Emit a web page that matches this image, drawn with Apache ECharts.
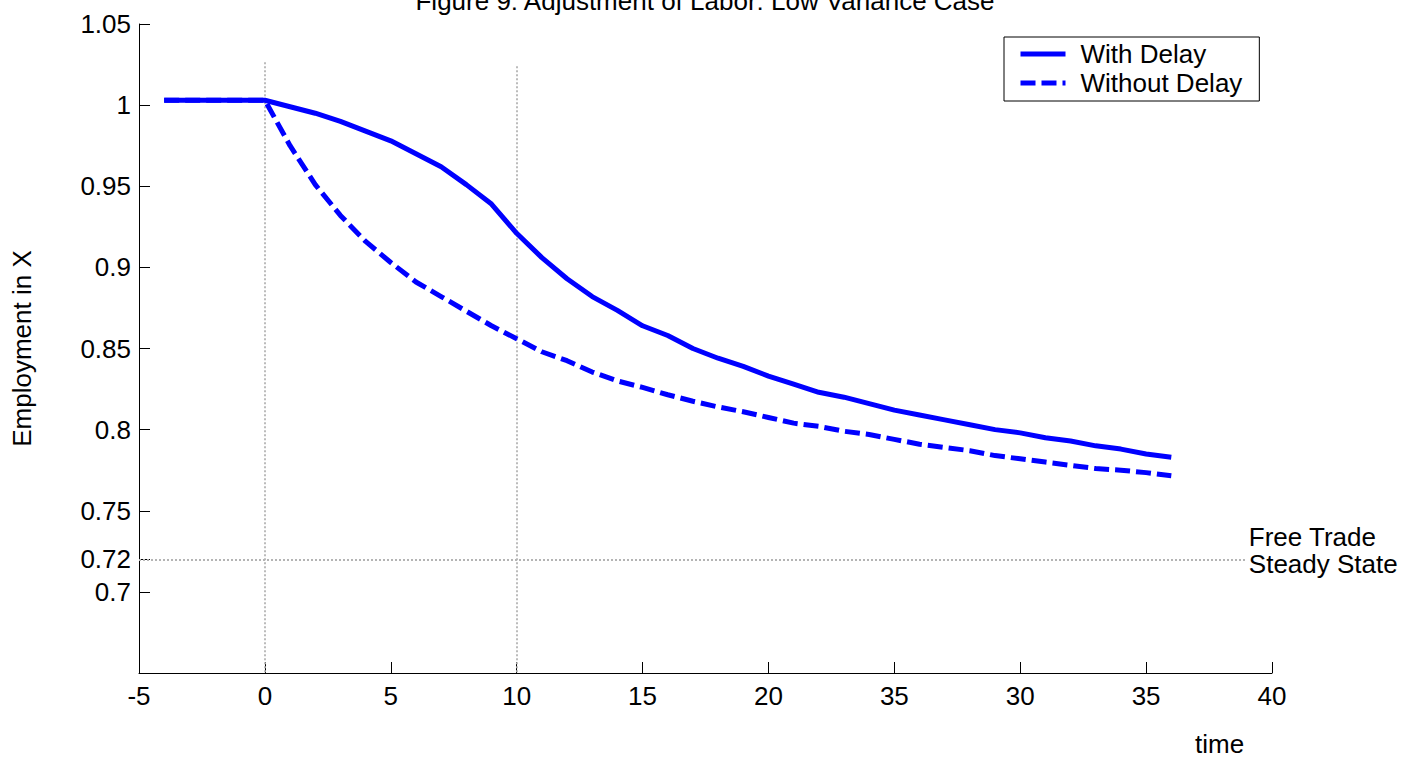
<!DOCTYPE html>
<html>
<head>
<meta charset="utf-8">
<title>Figure 9: Adjustment of Labor: Low Variance Case</title>
<script src="https://cdn.jsdelivr.net/npm/echarts@6/dist/echarts.min.js"></script>
<style>
  html, body { margin: 0; padding: 0; background: #ffffff; overflow: hidden; }
  #chart { width: 1410px; height: 759px; }
</style>
</head>
<body>
<div id="chart"></div>
<script>
// time periods
const periods = [-4, -3, -2, -1, 0, 1, 2, 3, 4, 5, 6, 7, 8, 9, 10, 11, 12, 13, 14, 15, 16,
  17, 18, 19, 20, 21, 22, 23, 24, 25, 26, 27, 28, 29, 30, 31, 32, 33, 34, 35, 36];

// employment in sector X
const withDelay = [1.003, 1.003, 1.003, 1.003, 1.003, 0.999, 0.995, 0.990, 0.984, 0.978, 0.970,
  0.962, 0.951, 0.939, 0.921, 0.906, 0.893, 0.882, 0.8735, 0.864, 0.858, 0.850, 0.844, 0.839,
  0.833, 0.828, 0.823, 0.820, 0.816, 0.812, 0.809, 0.806, 0.803, 0.800, 0.798, 0.795, 0.793,
  0.790, 0.788, 0.785, 0.783];
const withoutDelay = [1.003, 1.003, 1.003, 1.003, 1.003, 0.975, 0.951, 0.932, 0.916, 0.903, 0.891,
  0.882, 0.873, 0.864, 0.856, 0.848, 0.8425, 0.8355, 0.830, 0.826, 0.8215, 0.8175, 0.814, 0.811,
  0.8075, 0.804, 0.802, 0.799, 0.797, 0.794, 0.791, 0.789, 0.787, 0.784, 0.782, 0.780, 0.778,
  0.776, 0.775, 0.7735, 0.7716];

// free trade steady state level
const steadyState = 0.72;
// dotted guides at the policy dates: [time, top value]
const policyDates = [[0, 1.0265], [10, 1.024]];
const steadyStateEnd = 39;

// axis ticks and their printed labels
const xTickLabels = ['-5', '0', '5', '10', '15', '20', '35', '30', '35', '40'];
const yTickValues = [0.7, 0.72, 0.75, 0.8, 0.85, 0.9, 0.95, 1, 1.05];
const yTickLabels = ['0.7', '0.72', '0.75', '0.8', '0.85', '0.9', '0.95', '1', '1.05'];

const FONT = 'Liberation Sans, Arial, Helvetica, sans-serif';
const FS = 26;
const BLUE = '#0000ff';
const GUIDE = { color: '#b4b4b4', width: 1.8, type: [2, 2] };

const chart = echarts.init(document.getElementById('chart'), null, { renderer: 'svg' });

const guideLines = policyDates.map(([t, top]) => [
  { coord: [t, top] },
  { coord: [t, 0.65] }
]);
guideLines.push([
  {
    coord: [-5, steadyState],
    label: {
      show: true,
      position: 'end',
      distance: 2,
      formatter: 'Free Trade\nSteady State',
      color: '#000',
      fontFamily: FONT,
      fontSize: FS,
      lineHeight: 27,
      offset: [0, -9]
    }
  },
  { coord: [steadyStateEnd, steadyState] }
]);

chart.setOption({
  animation: false,
  textStyle: { fontFamily: FONT },
  title: {
    text: 'Figure 9: Adjustment of Labor: Low Variance Case',
    left: 'center',
    top: -17,
    textStyle: { fontFamily: FONT, fontSize: FS, fontWeight: 'normal', color: '#000' }
  },
  legend: {
    left: 1004,
    top: 37,
    orient: 'vertical',
    backgroundColor: '#fff',
    borderColor: '#000',
    borderWidth: 1,
    padding: [4, 17, 5, 14],
    itemGap: 3,
    itemWidth: 45,
    itemHeight: 14,
    itemStyle: { opacity: 0 },
    lineStyle: { width: 5 },
    textStyle: { fontFamily: FONT, fontSize: FS, color: '#000', lineHeight: 26, padding: [0, 0, 0, 10] },
    data: ['With Delay', 'Without Delay']
  },
  grid: { left: 139, right: 138, top: 24, bottom: 86, containLabel: false },
  xAxis: {
    type: 'value',
    min: -5,
    max: 40,
    interval: 5,
    axisLine: { show: true, onZero: false, lineStyle: { color: '#000', width: 1 } },
    axisTick: { show: true, inside: true, length: 11, lineStyle: { color: '#000' } },
    axisLabel: {
      margin: 10,
      color: '#000',
      fontFamily: FONT,
      fontSize: FS,
      formatter: v => xTickLabels[Math.round((v + 5) / 5)]
    },
    splitLine: { show: false }
  },
  yAxis: {
    type: 'value',
    min: 0.65,
    max: 1.05,
    name: 'Employment in X',
    nameLocation: 'middle',
    nameGap: 104,
    nameTextStyle: { fontFamily: FONT, fontSize: FS, color: '#000' },
    axisLine: { show: true, onZero: false, lineStyle: { color: '#000', width: 1 } },
    axisTick: { show: true, inside: true, length: 11, customValues: yTickValues, lineStyle: { color: '#000' } },
    axisLabel: {
      margin: 8,
      color: '#000',
      fontFamily: FONT,
      fontSize: FS,
      customValues: yTickValues,
      formatter: v => {
        const i = yTickValues.findIndex(y => Math.abs(y - v) < 1e-9);
        return i >= 0 ? yTickLabels[i] : '';
      }
    },
    splitLine: { show: false }
  },
  graphic: [{
    type: 'text',
    left: 1195,
    top: 731,
    style: { text: 'time', fill: '#000', font: FS + 'px ' + FONT }
  }],
  series: [
    {
      name: 'With Delay',
      type: 'line',
      symbol: 'none',
      z: 3,
      lineStyle: { color: BLUE, width: 5 },
      itemStyle: { color: BLUE },
      data: periods.map((t, i) => [t, withDelay[i]]),
      markLine: {
        silent: true,
        symbol: 'none',
        z: 1,
        label: { show: false },
        lineStyle: GUIDE,
        emphasis: { disabled: true },
        data: guideLines
      }
    },
    {
      name: 'Without Delay',
      type: 'line',
      symbol: 'none',
      z: 3,
      lineStyle: { color: BLUE, width: 5, type: [15, 6] },
      itemStyle: { color: BLUE },
      data: periods.map((t, i) => [t, withoutDelay[i]])
    }
  ]
});
</script>
</body>
</html>
